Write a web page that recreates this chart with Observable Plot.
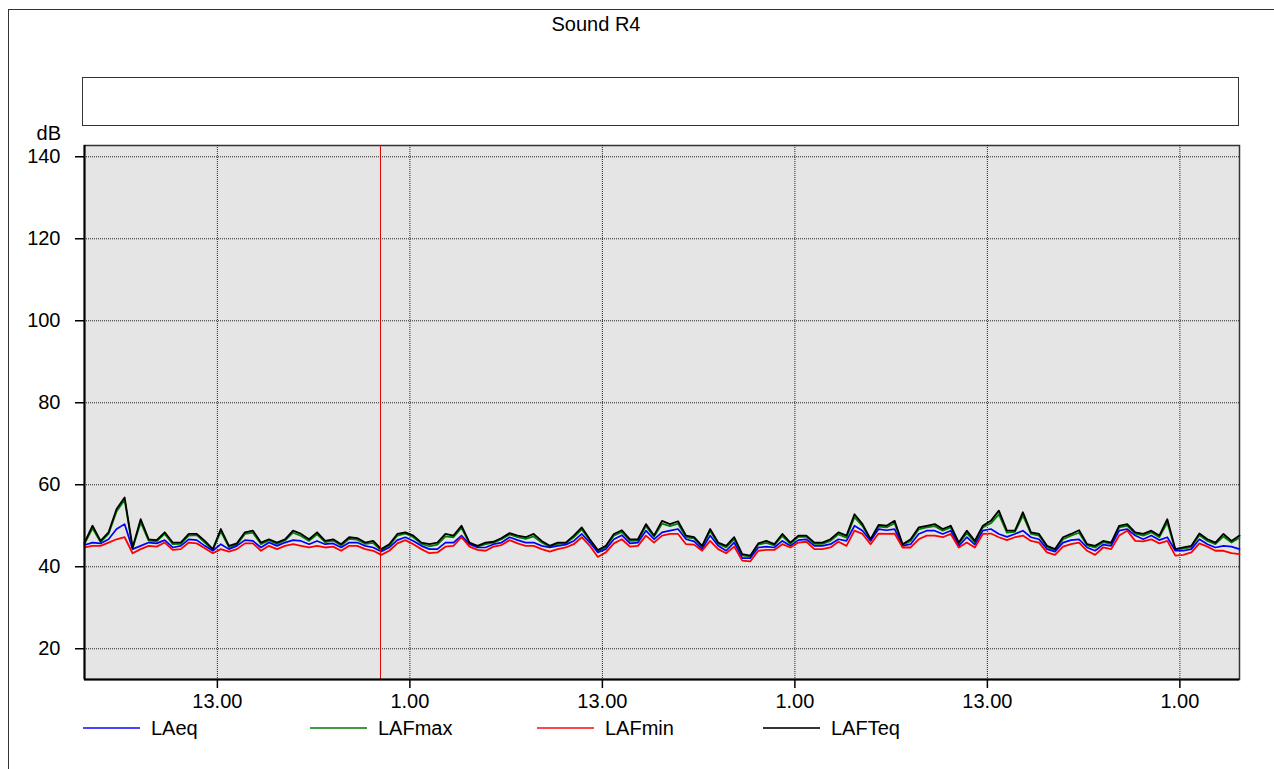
<!DOCTYPE html>
<html>
<head>
<meta charset="utf-8">
<script src="https://cdn.jsdelivr.net/npm/d3@7"></script>
<script src="https://cdn.jsdelivr.net/npm/@observablehq/plot@0.6"></script>
<style>
  html, body { margin: 0; padding: 0; background: #fff; }
  #page { position: relative; width: 1274px; height: 769px; overflow: hidden; font-family: "Liberation Sans", Arial, sans-serif; color: #000; }
  #outer { position: absolute; left: 8px; top: 9px; width: 1400px; height: 900px; border-left: 1.5px solid #333; border-top: 1.5px solid #333; }
  #title { position: absolute; left: 0; width: 1192px; top: 14px; text-align: center; font-size: 20px; line-height: 20px; }
  #box { position: absolute; left: 82px; top: 77px; width: 1155px; height: 47px; border: 1.5px solid #333; background: #fff; }
  #dblabel { position: absolute; left: 0; width: 61px; top: 123px; text-align: right; font-size: 20px; line-height: 20px; }
  #chart { position: absolute; left: 0; top: 120px; }
  .leg-line { position: absolute; height: 0; border-top: 2px solid; top: 727px; width: 57px; }
  .leg-text { position: absolute; top: 718px; font-size: 20px; line-height: 20px; }
</style>
</head>
<body>
<div id="page">
  <div id="outer"></div>
  <div id="title">Sound R4</div>
  <div id="box"></div>
  <div id="dblabel">dB</div>
  <div id="chart"></div>
  <div id="legend"></div>
</div>
<script>
// ---- data (dB), one value every 30 minutes, from 04:43 on day 1 ----
const seriesNames = ["LAeq", "LAFmax", "LAFmin", "LAFTeq"];
const seriesColors = ["#0000ff", "#008000", "#ff0000", "#000000"];
const legendColors = ["#4646ff", "#3c9c3c", "#ff4646", "#333333"];

const LAFTeq = [
45.9,50.0,46.3,48.4,54.1,56.9,44.7,51.6,46.7,46.5,48.4,45.9,45.9,48.0,48.0,46.3,44.3,49.2,45.1,45.7,
48.4,48.8,45.9,46.7,45.9,46.7,48.8,48.0,46.7,48.4,46.3,46.7,45.5,47.2,47.0,45.9,46.3,44.3,45.5,48.0,
48.4,47.6,45.9,45.5,45.9,48.0,47.6,50.0,45.9,45.1,45.9,46.1,47.0,48.2,47.6,47.2,48.0,46.3,45.1,45.9,
45.9,47.6,49.6,46.7,44.1,45.1,48.0,48.9,46.7,46.7,50.4,47.6,51.2,50.4,51.1,47.6,47.2,45.1,49.2,45.9,
45.1,47.2,43.1,42.7,45.7,46.3,45.5,48.0,45.9,47.6,47.6,45.9,45.9,46.7,48.4,47.6,52.8,50.4,46.7,50.2,
50.0,51.2,45.5,46.7,49.6,50.0,50.4,49.2,50.0,45.9,48.8,46.3,50.0,51.2,53.7,48.8,48.8,53.3,48.4,48.0,
45.1,44.3,47.2,48.0,48.9,45.5,45.1,46.3,45.9,50.0,50.4,48.4,48.0,48.8,47.6,51.6,44.3,44.7,45.1,48.1,
46.7,45.9,48.0,46.3,47.6
];
const LAFmax = [
45.6,49.4,46.0,48.0,53.5,56.3,44.5,50.8,46.4,46.2,48.0,45.5,45.6,47.6,47.7,45.9,44.1,48.6,44.8,45.4,
48.0,48.3,45.5,46.4,45.6,46.4,48.3,47.5,46.3,47.9,46.0,46.4,45.2,46.8,46.6,45.6,45.8,44.0,45.2,47.6,
48.1,47.2,45.6,45.0,45.4,47.4,47.2,49.5,45.7,44.9,45.5,45.9,46.7,47.9,47.2,46.8,47.4,45.9,44.9,45.6,
45.7,47.2,49.1,46.4,43.8,44.8,47.6,48.5,46.3,46.4,49.9,47.3,50.5,49.9,50.5,47.2,46.9,44.8,48.7,45.6,
44.7,46.7,42.8,42.5,45.4,45.8,45.2,47.5,45.6,47.3,47.3,45.6,45.6,46.3,47.9,47.1,52.1,49.9,46.5,49.8,
49.6,50.6,45.3,46.3,49.1,49.6,49.9,48.8,49.6,45.6,48.2,46.0,49.6,50.6,52.8,48.3,48.5,52.5,48.0,47.6,
44.8,44.1,46.7,47.6,48.3,45.2,44.7,46.0,45.6,49.6,50.0,48.1,47.6,48.4,47.2,50.8,44.1,44.4,44.8,47.7,
46.3,45.5,47.4,45.9,47.1
];
const LAeq = [
45.3,45.9,45.7,46.7,49.2,50.4,44.3,45.1,45.9,45.7,46.5,44.7,45.1,46.7,46.5,45.1,43.9,45.5,44.3,45.1,
46.5,46.3,44.7,45.9,45.1,45.9,46.5,46.3,45.5,46.3,45.5,45.7,44.7,45.9,45.9,45.1,44.7,43.7,44.7,46.5,
47.2,46.3,45.1,44.3,44.3,45.9,45.9,47.6,45.5,44.7,44.7,45.5,45.9,47.2,46.5,45.9,45.9,45.1,44.7,45.1,
45.4,46.3,48.0,45.9,43.5,44.3,46.7,47.7,45.7,45.9,48.8,46.7,48.4,48.8,49.2,46.7,46.2,44.3,47.6,45.1,
43.9,45.9,42.1,42.1,44.7,44.9,44.7,46.3,45.1,46.5,46.7,45.1,45.1,45.5,46.7,46.3,50.0,48.8,46.3,49.2,
48.9,49.2,45.1,45.5,48.0,48.8,48.8,48.0,48.8,45.1,47.2,45.4,48.8,49.2,48.0,47.3,48.0,48.8,47.2,46.7,
44.3,43.7,45.9,46.5,46.7,44.7,43.9,45.4,45.1,48.8,49.2,47.6,46.7,47.6,46.5,47.2,43.9,43.9,44.3,46.7,
45.5,44.7,45.1,44.9,44.3
];
const LAFmin = [
44.7,45.1,45.1,45.9,46.7,47.2,43.3,44.3,45.1,44.9,45.9,44.1,44.3,45.9,45.7,44.5,43.3,44.3,43.7,44.3,
45.7,45.7,43.9,45.1,44.3,45.1,45.5,45.1,44.7,45.1,44.7,44.9,43.9,45.1,45.1,44.3,43.9,42.9,43.9,45.7,
46.5,45.5,44.3,43.3,43.5,44.9,45.1,47.2,44.9,44.1,43.9,44.9,45.3,46.5,45.7,45.1,45.1,44.3,43.7,44.3,
44.7,45.5,47.2,45.1,42.4,43.5,45.7,46.7,44.9,45.1,47.6,45.9,47.6,48.0,48.0,45.5,45.4,43.9,46.3,44.3,
43.3,44.9,41.5,41.3,43.9,44.1,44.1,45.5,44.7,45.9,46.1,44.3,44.3,44.7,46.1,45.1,48.8,48.0,45.5,48.1,
48.0,48.1,44.7,44.7,46.7,47.6,47.6,47.2,48.0,44.7,45.9,44.7,48.0,48.1,47.2,46.5,47.2,47.6,46.3,45.9,
43.5,42.9,44.9,45.5,45.9,43.9,42.9,44.7,44.3,47.6,48.8,46.3,46.2,46.7,45.7,46.3,42.7,42.9,43.5,45.7,
44.9,43.9,43.9,43.3,43.1
];

const yTicks = [20, 40, 60, 80, 100, 120, 140];
const yDomain = [12.5, 142.75];
const xTickTimes = [
  Date.UTC(2021, 0, 4, 13, 0), Date.UTC(2021, 0, 5, 1, 0), Date.UTC(2021, 0, 5, 13, 0),
  Date.UTC(2021, 0, 6, 1, 0), Date.UTC(2021, 0, 6, 13, 0), Date.UTC(2021, 0, 7, 1, 0)
];
const xTickLabels = ["13.00", "1.00", "13.00", "1.00", "13.00", "1.00"];
const startTime = Date.UTC(2021, 0, 4, 4, 43);
const endTime = Date.UTC(2021, 0, 7, 4, 43);
const stepMinutes = 30;
const markerTime = Date.UTC(2021, 0, 4, 23, 10);

// ---- build table ----
const rows = LAeq.map((_, i) => ({
  t: new Date(startTime + i * stepMinutes * 60000),
  LAeq: LAeq[i], LAFmax: LAFmax[i], LAFmin: LAFmin[i], LAFTeq: LAFTeq[i]
}));
const xTickDates = xTickTimes.map(d => new Date(d));

const drawOrder = ["LAFmax", "LAeq", "LAFmin", "LAFTeq"];
const widths = {LAFmax: 1.8, LAeq: 1.7, LAFmin: 1.8, LAFTeq: 1.8};

const chart = Plot.plot({
  width: 1274,
  height: 594,
  marginLeft: 84,
  marginRight: 35,
  marginTop: 25,
  marginBottom: 35,
  style: {fontFamily: '"Liberation Sans", Arial, sans-serif', fontSize: "20px", background: "transparent", color: "#000"},
  x: {type: "utc", domain: [new Date(startTime), new Date(endTime)]},
  y: {domain: yDomain},
  marks: [
    Plot.frame({fill: "#e5e5e5", stroke: "#333", strokeWidth: 1.5}),
    Plot.gridY(yTicks, {stroke: "#000", strokeOpacity: 0.85, strokeDasharray: "1,1"}),
    Plot.gridX(xTickDates, {stroke: "#000", strokeOpacity: 0.85, strokeDasharray: "1,1"}),
    ...drawOrder.map(name => Plot.lineY(rows, {
      x: "t", y: name,
      stroke: seriesColors[seriesNames.indexOf(name)],
      strokeWidth: widths[name]
    })),
    Plot.ruleX([new Date(markerTime)], {stroke: "#e00000", strokeWidth: 1}),
    Plot.axisY(yTicks, {tickSize: 9, tickPadding: 15, label: null, stroke: "#000", strokeWidth: 1.5, fontSize: 20}),
    Plot.axisX(xTickDates, {tickSize: 9, tickPadding: 5, label: null, stroke: "#000", strokeWidth: 1.5, fontSize: 20,
      tickFormat: (d) => xTickLabels[xTickTimes.indexOf(+d)]}),
    Plot.ruleX([new Date(startTime)], {stroke: "#000", strokeWidth: 2}),
    Plot.ruleY([yDomain[0]], {stroke: "#000", strokeWidth: 2})
  ]
});
document.getElementById("chart").appendChild(chart);

// ---- legend ----
const legend = document.getElementById("legend");
const legendX = [83, 310, 537, 763];
seriesNames.forEach((name, i) => {
  const line = document.createElement("div");
  line.className = "leg-line";
  line.style.left = legendX[i] + "px";
  line.style.borderTopColor = legendColors[i];
  legend.appendChild(line);
  const txt = document.createElement("div");
  txt.className = "leg-text";
  txt.style.left = (legendX[i] + 68) + "px";
  txt.textContent = name;
  legend.appendChild(txt);
});
</script>
</body>
</html>
